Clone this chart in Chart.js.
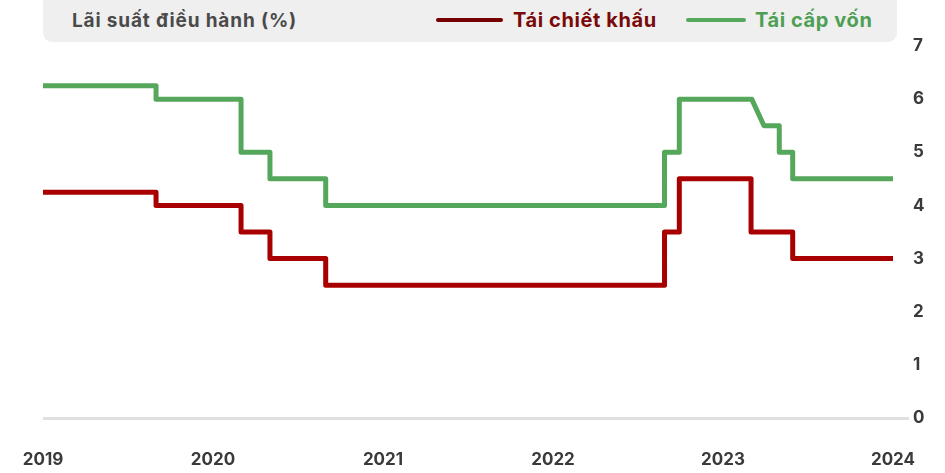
<!DOCTYPE html>
<html>
<head>
<meta charset="utf-8">
<script src="https://cdn.jsdelivr.net/npm/chart.js@4"></script>
<style>
  html, body { margin: 0; padding: 0; background: #fff; }
  #wrap { position: relative; width: 945px; height: 473px; font-family: Inter, "Noto Sans", sans-serif; }
  #head {
    position: absolute; left: 43px; top: 0; width: 854px; height: 42px;
    background: #efefef; border-radius: 0 0 9px 9px;
  }
  #title { position: absolute; left: 29px; top: 9px; font-size: 19px; font-weight: 700; letter-spacing: 0.85px; color: #4a4a4a; }
  .item { position: absolute; top: 8px; display: flex; align-items: center; font-size: 20px; font-weight: 700; letter-spacing: 0.6px; }
  .swatch { height: 4px; border-radius: 2px; }
</style>
</head>
<body>
<div id="wrap">
  <canvas id="rateChart" width="945" height="473"></canvas>
  <div id="head">
    <div id="title">Lãi suất điều hành (%)</div>
  </div>
</div>
<script>
// Segments: start year, end year, rate (%)
const discountStart = [2019.0, 2019.665, 2020.165, 2020.335, 2020.663, 2022.656, 2022.743, 2023.165, 2023.41];
const discountEnd   = [2019.665, 2020.165, 2020.335, 2020.663, 2022.656, 2022.743, 2023.165, 2023.41, 2024.0];
const discountRate  = [4.25, 4.0, 3.5, 3.0, 2.5, 3.5, 4.5, 3.5, 3.0];

const refiStart = [2019.0, 2019.665, 2020.165, 2020.335, 2020.663, 2022.656, 2022.743, 2023.241, 2023.331, 2023.41];
const refiEnd   = [2019.665, 2020.165, 2020.335, 2020.663, 2022.656, 2022.743, 2023.169, 2023.331, 2023.41, 2024.0];
const refiRate  = [6.25, 6.0, 5.0, 4.5, 4.0, 5.0, 6.0, 5.5, 5.0, 4.5];

const yearTicks = [2019, 2020, 2021, 2022, 2023, 2024];

function steps(starts, ends, rates) {
  const pts = [];
  rates.forEach((r, i) => {
    pts.push({ x: starts[i], y: r });
    pts.push({ x: ends[i], y: r });
  });
  return pts;
}

const series = [
  { label: 'Tái chiết khấu', data: steps(discountStart, discountEnd, discountRate), color: '#a80000', legend: '#760000', text: '#7a0a0a', left: 393, sw: 67, gap: 10 },
  { label: 'Tái cấp vốn', data: steps(refiStart, refiEnd, refiRate), color: '#55a75b', legend: '#55a75b', text: '#4e9f54', left: 643, sw: 60, gap: 9 }
];

// legend in the grey header
const head = document.getElementById('head');
series.forEach(s => {
  const item = document.createElement('div');
  item.className = 'item';
  item.style.left = s.left + 'px';
  item.innerHTML = '<span class="swatch" style="width:' + s.sw + 'px;margin-right:' + s.gap + 'px;background:' + s.legend + '"></span>' +
    '<span style="color:' + s.text + '">' + s.label + '</span>';
  head.appendChild(item);
});

const ctx = document.getElementById('rateChart').getContext('2d');
new Chart(ctx, {
  type: 'line',
  data: {
    datasets: series.map(s => ({
      label: s.label,
      data: s.data,
      borderColor: s.color,
      borderWidth: 5,
      borderJoinStyle: 'round',
      borderCapStyle: 'round',
      pointRadius: 0,
      tension: 0,
      fill: false
    }))
  },
  options: {
    responsive: false,
    animation: false,
    layout: { padding: { left: 43, top: 46, right: 0, bottom: 0 } },
    plugins: { legend: { display: false }, tooltip: { enabled: false } },
    scales: {
      x: {
        type: 'linear',
        min: 2019,
        max: 2024,
        afterBuildTicks: scale => { scale.ticks = yearTicks.map(v => ({ value: v })); },
        grid: { display: false, drawTicks: false },
        border: { display: false },
        ticks: {
          padding: 32,
          maxRotation: 0,
          color: '#3a3a3a',
          font: { family: 'Inter', size: 17, weight: 'bold' },
          callback: v => String(v)
        },
        afterFit: scale => {
          scale.height = 55;
          scale.paddingLeft = 0;
          scale.paddingRight = 0;
        }
      },
      y: {
        position: 'right',
        min: 0,
        max: 7,
        ticks: {
          stepSize: 1,
          padding: 4,
          color: '#3a3a3a',
          font: { family: 'Inter', size: 17, weight: 'bold' }
        },
        grid: {
          color: c => c.tick && c.tick.value === 0 ? '#e0e0e0' : 'rgba(0,0,0,0)',
          lineWidth: 3,
          drawTicks: true,
          tickLength: 16
        },
        border: { display: false },
        afterFit: scale => {
          scale.width = 52;
          scale.paddingTop = 0;
          scale.paddingBottom = 0;
        }
      }
    }
  }
});
</script>
</body>
</html>
